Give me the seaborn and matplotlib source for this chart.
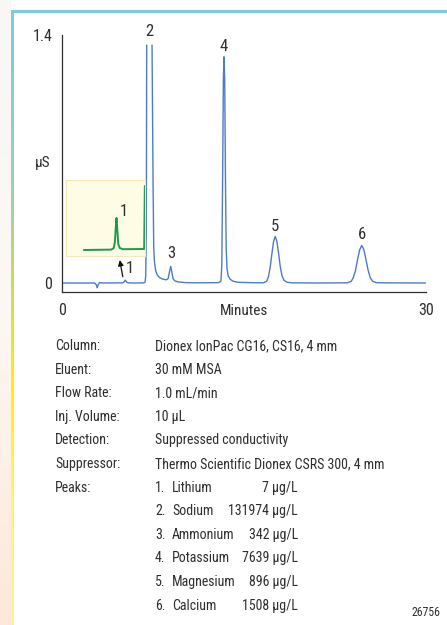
import numpy as np
import pandas as pd
import matplotlib
matplotlib.use("Agg")
import matplotlib.pyplot as plt
from matplotlib import font_manager
from matplotlib.colors import LinearSegmentedColormap
from matplotlib.patches import Rectangle
import seaborn as sns

# chromatogram trace (minutes, µS); nan = off-scale gap of peak 2
trace_min = [0.1, 2.7, 2.82, 2.9, 2.98, 3.1, 3.4, 5.0, 5.12, 5.22, 5.32, 5.45, 6.0,
             6.75, 6.85, 6.9, 6.95, 6.98, 7.2,
             7.42, 7.5, 7.56, 7.62, 7.72, 7.85, 8.05, 8.3, 8.6, 8.75, 8.85, 8.96,
             9.06, 9.15, 9.3, 9.6, 10.2, 11.0, 12.9, 13.1, 13.17, 13.24, 13.3, 13.35,
             13.41, 13.47, 13.53, 13.6, 13.7, 13.85, 14.1, 14.5, 15.5,
             16.6, 16.87, 17.01, 17.15, 17.29, 17.43, 17.57, 17.71, 17.85, 17.99,
             18.13, 18.3, 18.55, 19.0, 21.0,
             23.5, 23.83, 24.0, 24.18, 24.35, 24.53, 24.7, 24.88, 25.05, 25.23,
             25.4, 25.6, 25.9, 26.5, 29.95]
trace_us = [0.0, 0.0, -0.01, -0.027, -0.01, 0.002, 0.0, 0.001, 0.006, 0.016, 0.006, 0.001, 0.0,
            0.001, 0.005, 0.04, 0.3, 1.343, np.nan,
            1.343, 0.6, 0.2, 0.12, 0.07, 0.045, 0.03, 0.022, 0.018, 0.025, 0.06, 0.094,
            0.06, 0.025, 0.012, 0.006, 0.002, 0.001, 0.002, 0.01, 0.1, 0.6, 1.15, 1.277,
            1.15, 0.6, 0.2, 0.08, 0.04, 0.022, 0.01, 0.004, 0.002,
            0.001, 0.01, 0.035, 0.085, 0.16, 0.232, 0.263, 0.235, 0.168, 0.092,
            0.042, 0.015, 0.004, 0.001, 0.0,
            0.001, 0.009, 0.029, 0.068, 0.129, 0.187, 0.212, 0.189, 0.133, 0.072,
            0.031, 0.01, 0.002, 0.001, 0.0]

# expanded view of peak 1 (inset)
inset_min = [3.2, 4.9, 5.05, 5.12, 5.17, 5.22, 5.27, 5.33, 5.42, 5.6, 6.93, 6.97]
inset_us = [0.0, 0.0002, 0.001, 0.004, 0.011, 0.016, 0.01, 0.003, 0.001, 0.0004, 0.0005, 0.032]

peak_ids = ["1", "2", "3", "4", "5", "6"]
peak_names = ["Lithium", "Sodium", "Ammonium", "Potassium", "Magnesium", "Calcium"]
peak_conc = [7, 131974, 342, 7639, 896, 1508]

cond_labels = ["Column:", "Eluent:", "Flow Rate:", "Inj. Volume:", "Detection:", "Suppressor:", "Peaks:"]
cond_values = ["Dionex IonPac CG16, CS16, 4 mm", "30 mM MSA", "1.0 mL/min", "10 µL",
               "Suppressed conductivity", "Thermo Scientific Dionex CSRS 300, 4 mm"]

BLUE = "#4d7bc8"
GREEN = "#1b9a4a"
INK = "#2e2e2e"
FS = 10

sns.set_style("white")
# a condensed sans, closest to the original typesetting
installed = {f.name for f in font_manager.fontManager.ttflist}
narrow = ["Liberation Sans Narrow", "Roboto Condensed", "Archivo Narrow", "PT Sans Narrow",
          "Fira Sans Condensed", "IBM Plex Sans Condensed", "Asap Condensed",
          "Encode Sans Condensed", "Barlow Semi Condensed", "Roboto"]
face = next((n for n in narrow if n in installed), "DejaVu Sans")
plt.rcParams["font.family"] = [face, "DejaVu Sans"]

W, H = 447, 625
fig = plt.figure(figsize=(W / 100, H / 100), dpi=100)

# page background and coloured frame, in pixel units
bg = fig.add_axes([0, 0, 1, 1], zorder=-5)
grad = np.linspace(0, 1, 256).reshape(-1, 1)
side = LinearSegmentedColormap.from_list("side", ["#f7f7f7", "#fdf8f3", "#fde8da"])
bg.imshow(grad, cmap=side, extent=(0, 11, H, 0), aspect="auto")
rim = LinearSegmentedColormap.from_list(
    "rim", [(0, "#7ccde2"), (0.3, "#9dd0b4"), (0.45, "#cddc58"),
            (0.62, "#fff200"), (0.8, "#fff274"), (1, "#fff39a")])
bg.imshow(grad, cmap=rim, extent=(11, 14, H, 10), aspect="auto")
bg.add_patch(Rectangle((11, 10), W - 11, 3, color="#7ccde2", lw=0))
bg.set_xlim(0, W)
bg.set_ylim(H, 0)
bg.axis("off")

# main chromatogram
trace = pd.DataFrame({"min": trace_min, "uS": trace_us})
trace["seg"] = trace["uS"].isna().cumsum()
trace = trace.dropna()

ax = fig.add_axes([62 / W, 1 - 292 / H, 364 / W, 257 / H])
ax.set_facecolor("none")
sns.lineplot(data=trace, x="min", y="uS", units="seg", estimator=None, sort=False,
             color=BLUE, lw=1.0, ax=ax)
ax.set_xlim(0, 30)
ax.set_ylim(-0.0508, 1.4)
ax.set_xticks([0, 30], ["0", "30"])
ax.set_yticks([0, 1.4], ["0", "1.4"])
ax.tick_params(axis="both", colors=INK, labelsize=11.5, width=0.9, direction="out")
ax.tick_params(axis="y", length=4, pad=3)
ax.tick_params(axis="x", length=4.5, pad=3.5)
ax.set_xlabel("Minutes", fontsize=11, color=INK, labelpad=-10)
ax.set_ylabel("")
sns.despine(ax=ax)
for s in ["left", "bottom"]:
    ax.spines[s].set_color(INK)
    ax.spines[s].set_linewidth(0.9)

label_pos = {"2": (7.17, 1.42), "3": (9.0, 0.165), "4": (13.35, 1.335),
             "5": (17.56, 0.32), "6": (24.7, 0.272), "1": (5.55, 0.08)}
for pid in peak_ids:
    x, y = label_pos[pid]
    ax.text(x, y, pid, ha="center", va="center", fontsize=12, color=INK)
ax.annotate("", xy=(4.72, 0.145), xytext=(5.05, 0.02),
            arrowprops=dict(arrowstyle="-|>", color="#111111", lw=0.9, mutation_scale=8))

# inset showing peak 1
ins = fig.add_axes([66 / W, 1 - 256 / H, 79 / W, 76 / H])
ins.set_facecolor("#fffce6")
sns.lineplot(x=inset_min, y=inset_us, color=GREEN, lw=1.4, ax=ins)
for ln in ins.lines:
    ln.set_clip_on(False)
ins.set_xlim(2.1, 6.98)
ins.set_ylim(-0.003, 0.035)
ins.set_xticks([])
ins.set_yticks([])
for s in ins.spines.values():
    s.set_color("#f3eab8")
    s.set_linewidth(0.8)
ins.text(5.7, 0.019, "1", ha="center", va="center", fontsize=12, color=INK)

bg.text(43, 163, "µS", ha="center", va="center", fontsize=11, color=INK)

# conditions block
row_y = [346 + 23.6 * i for i in range(12)]
for i, lab in enumerate(cond_labels):
    bg.text(55, row_y[i], lab, ha="left", va="center", fontsize=FS, color=INK)
for i, val in enumerate(cond_values):
    bg.text(155, row_y[i], val, ha="left", va="center", fontsize=FS, color=INK)
for i, (name, conc) in enumerate(zip(peak_names, peak_conc)):
    y = row_y[6 + i]
    bg.text(155, y, f"{i + 1}.", ha="left", va="center", fontsize=FS, color=INK)
    bg.text(172, y, name, ha="left", va="center", fontsize=FS, color=INK)
    bg.text(298, y, f"{conc} µg/L", ha="right", va="center", fontsize=FS, color=INK)

bg.text(441, 612, "26756", ha="right", va="center", fontsize=8.5, color=INK)

fig.savefig("out.png", dpi=100)
